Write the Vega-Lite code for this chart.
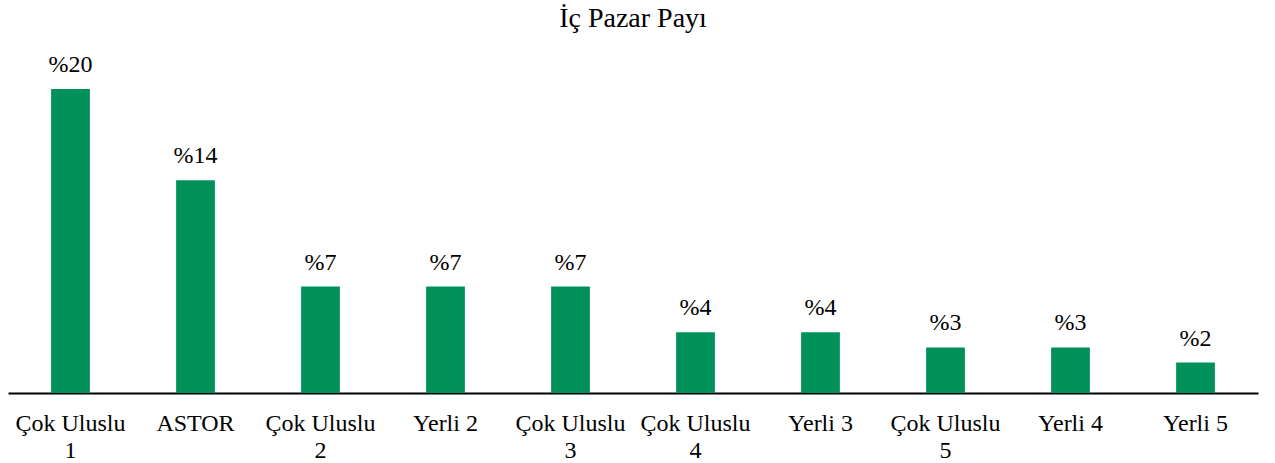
{
  "$schema": "https://vega.github.io/schema/vega-lite/v6.json",
  "autosize": "none",
  "width": 1250,
  "height": 304,
  "padding": {"left": 8, "top": 89, "right": 17, "bottom": 70},
  "background": "white",
  "title": {
    "text": "İç Pazar Payı",
    "font": "Liberation Serif",
    "fontSize": 28,
    "fontWeight": "normal",
    "color": "black",
    "anchor": "middle",
    "offset": 20
  },
  "data": {
    "values": [
      {"firma": "Çok Uluslu 1", "pay": 20},
      {"firma": "ASTOR", "pay": 14},
      {"firma": "Çok Uluslu 2", "pay": 7},
      {"firma": "Yerli 2", "pay": 7},
      {"firma": "Çok Uluslu 3", "pay": 7},
      {"firma": "Çok Uluslu 4", "pay": 4},
      {"firma": "Yerli 3", "pay": 4},
      {"firma": "Çok Uluslu 5", "pay": 3},
      {"firma": "Yerli 4", "pay": 3},
      {"firma": "Yerli 5", "pay": 2}
    ]
  },
  "transform": [{"calculate": "'%' + datum.pay", "as": "etiket"}],
  "encoding": {
    "x": {
      "field": "firma",
      "type": "nominal",
      "sort": null,
      "scale": {"paddingInner": 0.69, "paddingOuter": 0.345},
      "axis": {
        "title": null,
        "labelAngle": 0,
        "labelFont": "Liberation Serif",
        "labelFontWeight": "normal",
        "labelFontSize": 24,
        "labelColor": "black",
        "labelPadding": 18,
        "labelLineHeight": 27,
        "labelExpr": "indexof(datum.label, 'Uluslu') >= 0 ? ['Çok Uluslu', replace(datum.label, 'Çok Uluslu ', '')] : datum.label",
        "ticks": false,
        "domainColor": "black",
        "domainWidth": 2,
        "grid": false
      }
    },
    "y": {
      "field": "pay",
      "type": "quantitative",
      "scale": {"domain": [0, 20], "nice": false},
      "axis": null
    }
  },
  "layer": [
    {"mark": {"type": "bar", "color": "#00915A", "clip": false}},
    {
      "mark": {
        "type": "text",
        "font": "Liberation Serif",
        "fontWeight": "normal",
        "fontSize": 24,
        "color": "black",
        "baseline": "alphabetic",
        "dy": -17,
        "clip": false
      },
      "encoding": {"text": {"field": "etiket"}}
    }
  ],
  "config": {
    "view": {"stroke": null}
  }
}
